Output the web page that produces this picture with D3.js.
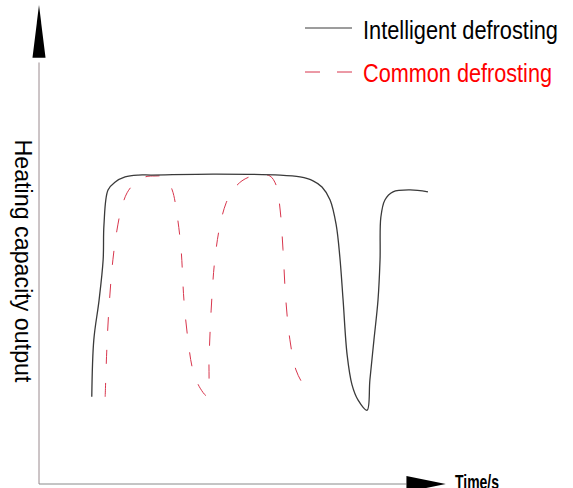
<!DOCTYPE html>
<html>
<head>
<meta charset="utf-8">
<script src="https://cdn.jsdelivr.net/npm/d3@7"></script>
<style>
  body { margin: 0; background: #fff; }
  text { font-family: "Liberation Sans", Arial, sans-serif; }
</style>
</head>
<body>
<div id="chart"></div>
<script>
      var width = 573;
      var height = 488;

      // intelligent defrosting (time, heating capacity), arbitrary units 0..100
      var smartTime = [13.0, 13.5, 14.8, 15.8, 16.0, 17.0, 18.7, 21.2, 24.4, 27.8, 42.9, 59.4, 64.3, 67.5, 69.7, 71.7, 73.2, 74.1, 74.9, 75.9, 77.1, 78.6, 80.8, 81.5, 82.5, 83.5, 84.0, 84.2, 85.2, 87.2, 91.4, 95.8];
      var smartValue = [18.2, 30.1, 38.4, 46.8, 54.1, 61.4, 63.0, 64.1, 64.5, 64.5, 64.7, 64.5, 64.1, 63.3, 62.0, 59.3, 54.1, 47.4, 38.4, 26.9, 20.7, 17.5, 15.4, 21.7, 30.1, 38.4, 46.8, 55.7, 59.3, 61.0, 61.4, 61.0];

      // common defrosting
      var commonTime = [16.3, 16.7, 17.2, 18.2, 19.2, 20.2, 21.7, 23.6, 26.1, 28.6, 31.0, 32.8, 34.0, 35.0, 35.7, 36.7, 37.9, 39.7, 41.4, 41.9, 42.4, 43.3, 44.6, 46.1, 47.8, 50.0, 52.5, 54.9, 56.9, 58.4, 59.4, 60.1, 60.8, 61.8, 63.3, 65.3, 67.0];
      var commonValue = [18.2, 28.0, 36.3, 46.8, 53.0, 57.2, 60.8, 62.8, 64.1, 64.3, 64.1, 61.4, 56.2, 48.9, 38.4, 30.1, 23.8, 20.0, 18.4, 26.9, 36.3, 46.8, 54.1, 58.7, 61.4, 63.3, 64.3, 64.5, 64.3, 62.4, 57.2, 48.9, 38.4, 30.1, 23.8, 20.5, 18.8];

      var seriesNames = ['Intelligent defrosting', 'Common defrosting'];

      var svg = d3.select('#chart').append('svg')
          .attr('width', width)
          .attr('height', height);

      var xScale = d3.scaleLinear().domain([0, 100]).range([39, 445]);
      var yScale = d3.scaleLinear().domain([0, 100]).range([484, 5]);

      // axes with arrows
      svg.append('line')
          .attr('x1', xScale(0)).attr('y1', yScale(0))
          .attr('x2', xScale(0)).attr('y2', yScale(88))
          .attr('stroke', '#9a8a8e').attr('stroke-width', 1);
      svg.append('path')
          .attr('d', 'M' + xScale(0) + ',' + yScale(100) + 'L' + (xScale(0) - 6.5) + ',' + yScale(89) + 'L' + (xScale(0) + 6.5) + ',' + yScale(89) + 'Z')
          .attr('fill', '#000');

      svg.append('line')
          .attr('x1', xScale(0)).attr('y1', yScale(0))
          .attr('x2', xScale(90.5)).attr('y2', yScale(0))
          .attr('stroke', '#8a8a8a').attr('stroke-width', 1);
      svg.append('path')
          .attr('d', 'M' + xScale(100.2) + ',' + yScale(0) + 'L' + xScale(90.5) + ',' + (yScale(0) - 8) + 'L' + xScale(90.5) + ',' + (yScale(0) + 8) + 'Z')
          .attr('fill', '#000');

      svg.append('text')
          .attr('x', 455).attr('y', 489)
          .attr('font-size', 21)
          .attr('textLength', 44).attr('lengthAdjust', 'spacingAndGlyphs')
          .attr('fill', '#000')
          .style('font-weight', 'bold')
          .text('Time/s');

      svg.append('text')
          .attr('transform', 'translate(15,261) rotate(90)')
          .attr('text-anchor', 'middle')
          .attr('font-size', 23)
          .attr('textLength', 243).attr('lengthAdjust', 'spacingAndGlyphs')
          .text('Heating capacity output');

      var line = d3.line()
          .x(d => xScale(d[0]))
          .y(d => yScale(d[1]))
          .curve(d3.curveCatmullRom.alpha(0.5));

      svg.append('path')
          .datum(d3.zip(commonTime, commonValue))
          .attr('d', line)
          .attr('fill', 'none')
          .attr('stroke', '#d8354c')
          .attr('stroke-width', 1)
          .attr('stroke-dasharray', '14,19');

      svg.append('path')
          .datum(d3.zip(smartTime, smartValue))
          .attr('d', line)
          .attr('fill', 'none')
          .attr('stroke', '#3a3a3a')
          .attr('stroke-width', 1.3);

      // legend
      svg.append('line')
          .attr('x1', 305).attr('x2', 352).attr('y1', 28).attr('y2', 28)
          .attr('stroke', '#3a3a3a').attr('stroke-width', 1);
      svg.append('text')
          .attr('x', 363).attr('y', 39)
          .attr('font-size', 25)
          .attr('textLength', 195).attr('lengthAdjust', 'spacingAndGlyphs')
          .attr('fill', '#000')
          .text(seriesNames[0]);

      svg.append('line')
          .attr('x1', 305).attr('x2', 352).attr('y1', 72).attr('y2', 72)
          .attr('stroke', '#d8354c').attr('stroke-width', 1)
          .attr('stroke-dasharray', '15,17');
      svg.append('text')
          .attr('x', 363).attr('y', 82)
          .attr('font-size', 25)
          .attr('textLength', 189).attr('lengthAdjust', 'spacingAndGlyphs')
          .attr('fill', '#ff0000')
          .text(seriesNames[1]);
</script>
</body>
</html>
